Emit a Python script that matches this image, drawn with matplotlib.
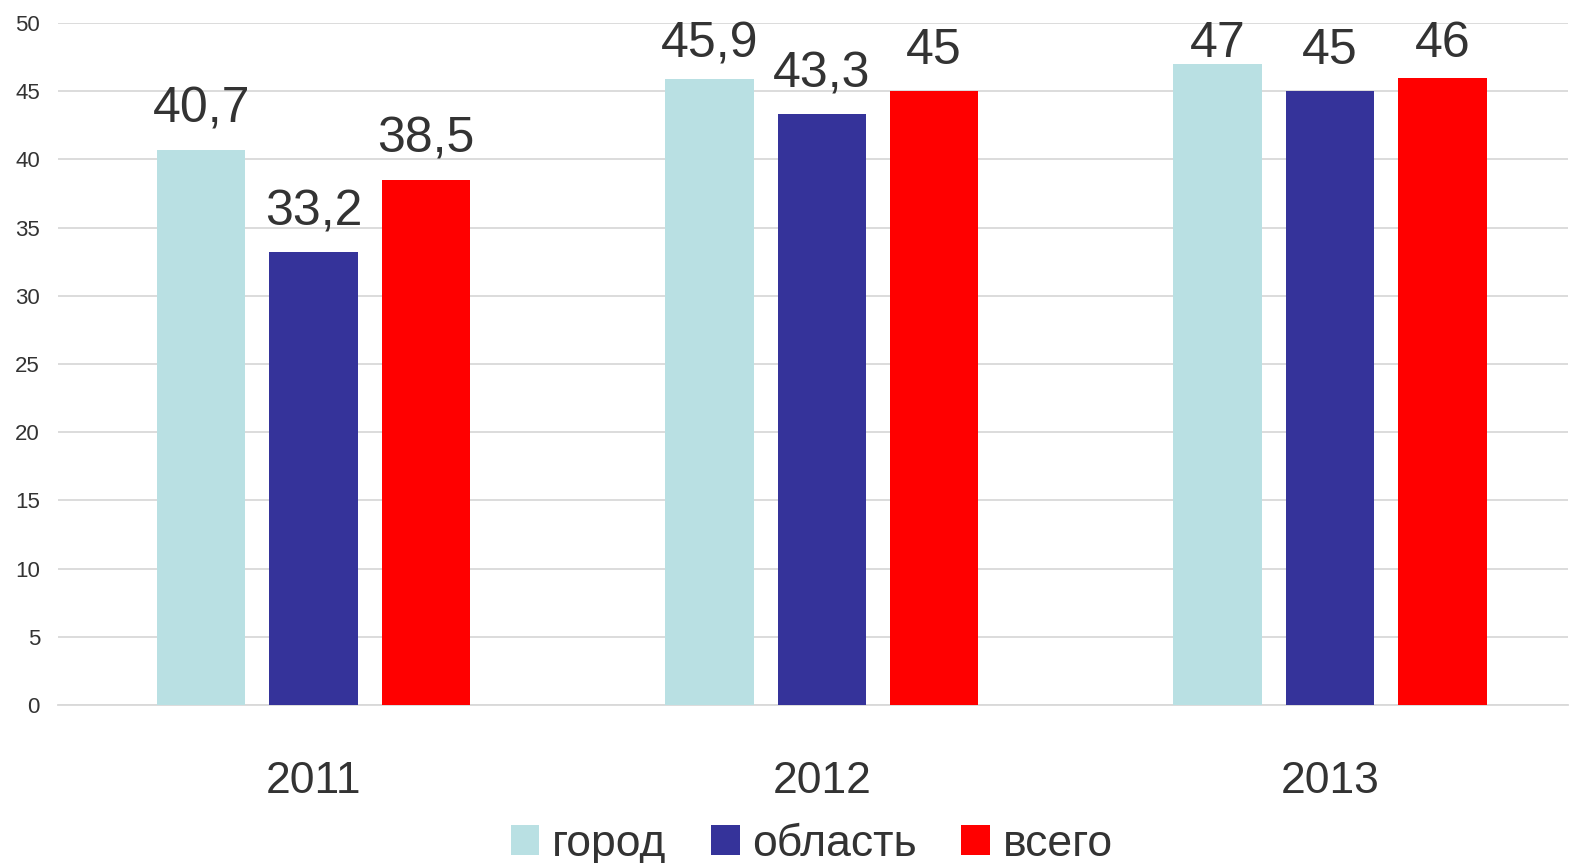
import numpy as np
import matplotlib.pyplot as plt

plt.rcParams['font.family'] = ['Liberation Sans', 'DejaVu Sans']

years = ['2011', '2012', '2013']
series = ['город', 'область', 'всего']
gorod = [40.7, 45.9, 47]
oblast = [33.2, 43.3, 45]
vsego = [38.5, 45, 46]
labels_gorod = ['40,7', '45,9', '47']
labels_oblast = ['33,2', '43,3', '45']
labels_vsego = ['38,5', '45', '46']

colors = ['#b9e0e3', '#35339a', '#ff0000']
text_color = '#333333'

fig = plt.figure(figsize=(15.73, 8.63), dpi=100)
ax = fig.add_axes([58 / 1573, 1 - 705 / 863, 1510 / 1573, 682 / 863])

ax.set_ylim(0, 50)
ax.set_xlim(-0.5027, 2.4683)

x = np.arange(len(years))
w = 0.174
step = 0.221
data = [gorod, oblast, vsego]
labs = [labels_gorod, labels_oblast, labels_vsego]
for i, (vals, lab) in enumerate(zip(data, labs)):
    bars = ax.bar(x + (i - 1) * step, vals, w, color=colors[i],
                  label=series[i], zorder=3)
    for b, t in zip(bars, lab):
        # labels sit ~27px above the bar but are kept inside the chart area
        top_px = ax.transData.transform((0, b.get_height()))[1]
        limit_px = fig.bbox.height - 57
        off_px = min(27, limit_px - top_px)
        ax.annotate(t, (b.get_x() + b.get_width() / 2, b.get_height()),
                    xytext=(0, off_px * 0.72), textcoords='offset points',
                    ha='center', va='baseline', fontsize=36, color=text_color)

ax.set_yticks(np.arange(0, 51, 5))
ax.set_xticks(x)
ax.set_xticklabels(years)
ax.tick_params(axis='x', length=0, pad=40, labelsize=32, labelcolor=text_color)
ax.tick_params(axis='y', length=0, pad=13, labelsize=16, labelcolor=text_color)
ax.grid(axis='y', color='#d9d9d9', linewidth=1.3, zorder=0)
for s in ['top', 'right', 'left']:
    ax.spines[s].set_visible(False)
ax.spines['bottom'].set_color('#d9d9d9')
ax.spines['bottom'].set_linewidth(1.3)

leg = fig.legend(loc='center', bbox_to_anchor=(0.516, 1 - 844 / 863), ncol=3,
                 frameon=False, fontsize=32, handlelength=0.65,
                 handleheight=0.65, handletextpad=0.28, columnspacing=1.0)
for t in leg.get_texts():
    t.set_color(text_color)

fig.savefig('out.png', dpi=100)
